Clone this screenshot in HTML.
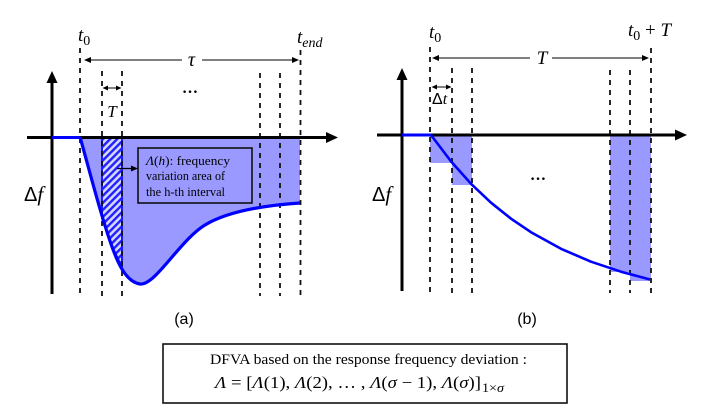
<!DOCTYPE html>
<html><head><meta charset="utf-8"><style>
html,body{margin:0;padding:0;background:#fff;}
svg{display:block;}
.m{font-family:"Liberation Serif",serif;font-style:italic;}
.s{font-family:"Liberation Sans",sans-serif;}
.r{font-family:"Liberation Serif",serif;}
</style></head><body>
<svg width="712" height="419" viewBox="0 0 712 419" xmlns="http://www.w3.org/2000/svg">
<defs>
<pattern id="h" patternUnits="userSpaceOnUse" width="5" height="5" patternTransform="rotate(45)">
<rect width="5" height="5" fill="#d6d6ff"/>
<rect width="2.4" height="5" fill="#2020ff"/>
</pattern>
</defs>

<!-- ===== Panel (a) ===== -->
<path d="M80,137 C88,165 98,205 108,235 C116,260 125,282 140,284 C155,286 180,240 205,225 C230,210 270,205 300,203 L300,137 Z" fill="#9999ff"/>
<path d="M102,137 L122,137 L122,267 C116,255 110,243 108,235 C106,229 104,224 102,218 Z" fill="url(#h)" stroke="#1a1aff" stroke-width="2"/>

<g stroke="#111" stroke-width="1.8" stroke-dasharray="5,5">
<line x1="80" y1="48" x2="80" y2="296"/>
<line x1="102" y1="71" x2="102" y2="296"/>
<line x1="122" y1="71" x2="122" y2="296"/>
<line x1="260" y1="73" x2="260" y2="296"/>
<line x1="280" y1="73" x2="280" y2="296"/>
<line x1="300.5" y1="50" x2="300.5" y2="296"/>
</g>

<!-- axes a -->
<line x1="27" y1="137.5" x2="328" y2="137.5" stroke="#000" stroke-width="3"/>
<polygon points="338,137.5 326,132 326,143" fill="#000"/>
<line x1="52" y1="82" x2="52" y2="294" stroke="#000" stroke-width="3"/>
<polygon points="52,71 46.5,83 57.5,83" fill="#000"/>

<line x1="52" y1="137.5" x2="80" y2="137.5" stroke="#0000ff" stroke-width="3"/>
<path d="M80,137 C88,165 98,205 108,235 C116,260 125,282 140,284 C155,286 180,240 205,225 C230,210 270,205 300,203" fill="none" stroke="#0000ff" stroke-width="3.2"/>

<!-- tau arrow -->
<line x1="88" y1="60" x2="182" y2="60" stroke="#000" stroke-width="1"/>
<line x1="202" y1="60" x2="295" y2="60" stroke="#000" stroke-width="1"/>
<polygon points="84,60 91,57 91,63" fill="#000"/>
<polygon points="299,60 292,57 292,63" fill="#000"/>
<text x="191.5" y="66" class="m" font-size="20" text-anchor="middle">τ</text>

<!-- T arrow -->
<line x1="105" y1="88" x2="119" y2="88" stroke="#000" stroke-width="1"/>
<polygon points="102.5,88 108,85.5 108,90.5" fill="#000"/>
<polygon points="121.5,88 116,85.5 116,90.5" fill="#000"/>
<text x="112" y="117" class="m" font-size="17" text-anchor="middle">T</text>
<text x="190" y="93" class="r" font-size="16" font-weight="bold" text-anchor="middle">…</text>

<text x="78" y="41" class="m" font-size="19">t<tspan font-style="normal" font-size="14" dy="4">0</tspan></text>
<text x="297" y="43" class="m" font-size="19">t<tspan font-size="14" dy="4">end</tspan></text>

<!-- label box a -->
<rect x="138" y="148" width="114" height="55" fill="none" stroke="#111" stroke-width="1.6"/>
<line x1="117" y1="168.5" x2="133" y2="168.5" stroke="#000" stroke-width="1.3"/>
<polygon points="138,168.5 131,165.5 131,171.5" fill="#000"/>
<text x="146" y="165" class="r" font-size="13" textLength="84" lengthAdjust="spacingAndGlyphs"><tspan font-style="italic">Λ</tspan>(<tspan font-style="italic">h</tspan>): frequency</text>
<text x="146" y="180" class="r" font-size="13" textLength="79" lengthAdjust="spacingAndGlyphs">variation  area of</text>
<text x="146" y="196" class="r" font-size="13" textLength="79" lengthAdjust="spacingAndGlyphs">the h-th interval</text>

<text x="24" y="201" class="s" font-size="20">Δ<tspan class="m" font-size="21">f</tspan></text>
<text x="184" y="324" class="s" font-size="16" text-anchor="middle">(a)</text>

<!-- ===== Panel (b) ===== -->
<g fill="#9999ff">
<rect x="430" y="135" width="22" height="28"/>
<rect x="452" y="135" width="20" height="50"/>
<rect x="610" y="135" width="20" height="137"/>
<rect x="630" y="135" width="21" height="146"/>
</g>
<g stroke="#111" stroke-width="1.8" stroke-dasharray="5,5">
<line x1="430" y1="47" x2="430" y2="293"/>
<line x1="452" y1="68" x2="452" y2="293"/>
<line x1="472" y1="68" x2="472" y2="293"/>
<line x1="610" y1="70" x2="610" y2="293"/>
<line x1="630" y1="70" x2="630" y2="293"/>
<line x1="651" y1="48" x2="651" y2="293"/>
</g>

<line x1="377" y1="135" x2="677" y2="135" stroke="#000" stroke-width="3"/>
<polygon points="687,135 675,129.5 675,140.5" fill="#000"/>
<line x1="402" y1="79" x2="402" y2="291" stroke="#000" stroke-width="3"/>
<polygon points="402,68 396.5,80 407.5,80" fill="#000"/>

<line x1="402" y1="135" x2="431" y2="135" stroke="#0000ff" stroke-width="3"/>
<polyline points="431,135 451,161.4 471,183.8 491,202.7 511,218.7 531,232.2 561,248.8 591,261.7 621,271.7 650,279.5" fill="none" stroke="#0000ff" stroke-width="2.6" stroke-linejoin="round"/>

<!-- T arrow b -->
<line x1="436" y1="58" x2="530" y2="58" stroke="#000" stroke-width="1"/>
<line x1="552" y1="58" x2="645" y2="58" stroke="#000" stroke-width="1"/>
<polygon points="432,58 439,55 439,61" fill="#000"/>
<polygon points="649,58 642,55 642,61" fill="#000"/>
<text x="542" y="64" class="m" font-size="19" text-anchor="middle">T</text>

<line x1="434" y1="87" x2="449" y2="87" stroke="#000" stroke-width="1"/>
<polygon points="431.5,87 437,84.5 437,89.5" fill="#000"/>
<polygon points="451.5,87 446,84.5 446,89.5" fill="#000"/>
<text x="432" y="104" class="s" font-size="16">Δ<tspan class="m">t</tspan></text>

<text x="429" y="38" class="m" font-size="19">t<tspan font-style="normal" font-size="14" dy="4">0</tspan></text>
<text x="628" y="36" class="m" font-size="19">t<tspan font-style="normal" font-size="14" dy="4">0</tspan><tspan font-style="normal" dy="-4"> + </tspan>T</text>

<text x="538" y="180" class="r" font-size="16" font-weight="bold" text-anchor="middle">…</text>
<text x="372" y="201" class="s" font-size="20">Δ<tspan class="m" font-size="21">f</tspan></text>
<text x="527" y="324" class="s" font-size="16" text-anchor="middle">(b)</text>

<!-- ===== Bottom box ===== -->
<rect x="163" y="344" width="404" height="59" fill="none" stroke="#111" stroke-width="1.6"/>
<text x="210" y="364" class="r" font-size="14.5" textLength="317" lengthAdjust="spacingAndGlyphs">DFVA based on the response frequency deviation :</text>
<text x="215" y="388" class="r" font-size="17" textLength="266" lengthAdjust="spacingAndGlyphs"><tspan font-style="italic">Λ</tspan> = [<tspan font-style="italic">Λ</tspan>(1), <tspan font-style="italic">Λ</tspan>(2), … , <tspan font-style="italic">Λ</tspan>(<tspan font-style="italic">σ</tspan> − 1), <tspan font-style="italic">Λ</tspan>(<tspan font-style="italic">σ</tspan>)]</text>
<text x="482" y="392" class="r" font-size="13" textLength="22" lengthAdjust="spacingAndGlyphs">1×<tspan font-style="italic">σ</tspan></text>
</svg>
</body></html>
